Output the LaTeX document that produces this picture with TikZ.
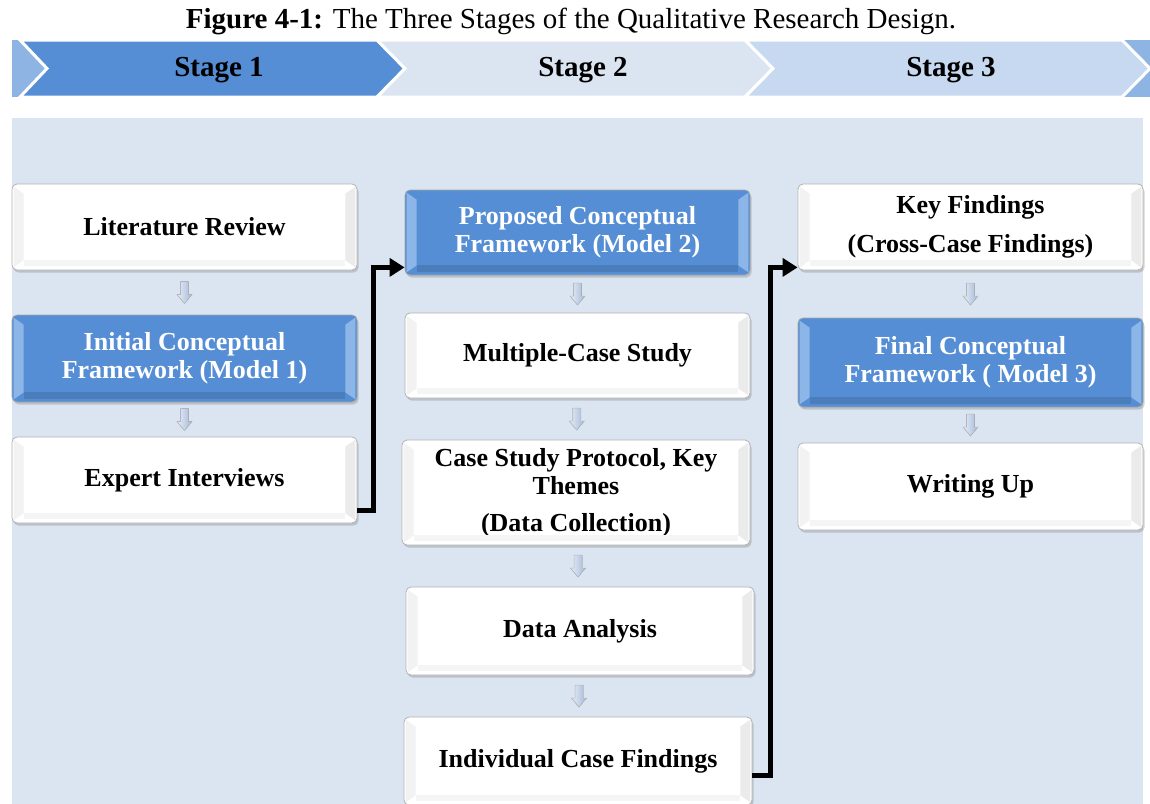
\documentclass[tikz,border=0pt]{standalone}
\usepackage{fontspec}
\setmainfont{Liberation Serif}
\usetikzlibrary{calc,shadows,arrows.meta}
\definecolor{stageA}{HTML}{558ED5}
\definecolor{stageB}{HTML}{DBE5F1}
\definecolor{stageC}{HTML}{C6D9F0}
\definecolor{stageEdge}{HTML}{8EB4E3}
\definecolor{panel}{HTML}{DBE5F1}
\definecolor{boxblue}{HTML}{558ED5}
\definecolor{bevblue}{HTML}{8DB6E8}
\definecolor{arrowlight}{HTML}{E6EDF7}
\definecolor{arrowdark}{HTML}{A3B8D8}
\tikzset{
  box/.style={draw=gray!60, line width=0.8pt, rounded corners=5pt, fill=white,
    drop shadow={shadow xshift=1.5pt, shadow yshift=-2.5pt, opacity=0.35},
    align=center, inner sep=0pt, minimum width=345pt,
    font=\fontsize{26}{28}\selectfont\bfseries},
  bluebox/.style={box, fill=boxblue, text=white, draw=gray!70},
  downarrow/.style={left color=arrowlight, right color=arrowdark, draw=gray!55, line width=0.5pt, line join=miter},
  conn/.style={line width=5pt, -{Triangle[length=15pt,width=18pt]}},
  chevron/.style={draw=white, line width=3pt, line join=miter},
  stagelabel/.style={font=\fontsize{29}{31}\selectfont\bfseries},
}
\begin{document}
\begin{tikzpicture}[x=1pt,y=-1pt]
\useasboundingbox (0,0) rectangle (1150,803);
\clip (0,0) rectangle (1150,803);

% caption
\node (title) at (571,21) {\fontsize{29}{31}\selectfont\textbf{Figure 4-1:} The Three Stages of the Qualitative Research Design.};

% stage band
\fill[stageEdge] (12,40) rectangle (1150,97);
\filldraw[chevron, fill=stageA] (20,40) -- (377,40) -- (405,68.5) -- (377,97) -- (20,97) -- (47,68.5) -- cycle;
\filldraw[chevron, fill=stageB] (377,40) -- (745,40) -- (773,68.5) -- (745,97) -- (377,97) -- (405,68.5) -- cycle;
\filldraw[chevron, fill=stageC] (745,40) -- (1122,40) -- (1150,68.5) -- (1122,97) -- (745,97) -- (773,68.5) -- cycle;
\node[stagelabel] (s1) at (219,70) {Stage 1};
\node[stagelabel] (s2) at (583,70) {Stage 2};
\node[stagelabel] (s3) at (951,70) {Stage 3};

% panel
\fill[panel] (12,118) rectangle (1143,810);

% column 1
\node[box, minimum height=86pt] (lit) at (184.5,227) {Literature Review};
\node[bluebox, minimum height=87pt] (init) at (184.5,358.5) {Initial Conceptual\\Framework (Model 1)};
\node[box, minimum height=86pt] (expert) at (184.5,480) {Expert Interviews};

% column 2
\node[bluebox, minimum height=85pt] (proposed) at (577.5,232.5) {Proposed Conceptual\\Framework (Model 2)};
\node[box, minimum height=85pt] (multiple) at (577.5,355.5) {Multiple-Case Study};
\node[box, minimum height=105pt, minimum width=348pt] (protocol) at (576,492.5) {Case Study Protocol, Key\\Themes\\[9pt](Data Collection)};
\node[box, minimum height=88pt, minimum width=348pt] (analysis) at (580,631) {Data Analysis};
\node[box, minimum height=88pt, minimum width=348pt] (indiv) at (578,761) {Individual Case Findings};

% column 3
\node[box, minimum height=86pt] (keyf) at (970.5,227) {Key Findings\\[11pt](Cross-Case Findings)};
\node[bluebox, minimum height=89pt] (final) at (970.5,362.5) {Final Conceptual\\Framework ( Model 3)};
\node[box, minimum height=87pt] (writing) at (970.5,486.5) {Writing Up};

% bevel edges of the white boxes
\foreach \n in {lit,expert,multiple,protocol,analysis,indiv,keyf,writing}{
  \fill[gray!10] ([xshift=2pt,yshift=-3pt]\n.north west) -- ([xshift=12pt,yshift=-10pt]\n.north west)
     -- ([xshift=12pt,yshift=10pt]\n.south west) -- ([xshift=2pt,yshift=3pt]\n.south west) -- cycle;
  \fill[gray!16] ([xshift=-2pt,yshift=-3pt]\n.north east) -- ([xshift=-12pt,yshift=-10pt]\n.north east)
     -- ([xshift=-12pt,yshift=10pt]\n.south east) -- ([xshift=-2pt,yshift=3pt]\n.south east) -- cycle;
  \fill[gray!8] ([xshift=12pt,yshift=4pt]\n.south west) -- ([xshift=-12pt,yshift=4pt]\n.south east)
     -- ([xshift=-12pt,yshift=10pt]\n.south east) -- ([xshift=12pt,yshift=10pt]\n.south west) -- cycle;
}
% bevel edges of the blue boxes
\foreach \n in {init,proposed,final}{
  \fill[bevblue] ([xshift=2pt,yshift=-3pt]\n.north west) -- ([xshift=12pt,yshift=-10pt]\n.north west)
     -- ([xshift=12pt,yshift=10pt]\n.south west) -- ([xshift=2pt,yshift=3pt]\n.south west) -- cycle;
  \fill[bevblue] ([xshift=-2pt,yshift=-3pt]\n.north east) -- ([xshift=-12pt,yshift=-10pt]\n.north east)
     -- ([xshift=-12pt,yshift=10pt]\n.south east) -- ([xshift=-2pt,yshift=3pt]\n.south east) -- cycle;
  \fill[boxblue!88!black] ([xshift=12pt,yshift=3pt]\n.south west) -- ([xshift=-12pt,yshift=3pt]\n.south east)
     -- ([xshift=-12pt,yshift=10pt]\n.south east) -- ([xshift=12pt,yshift=10pt]\n.south west) -- cycle;
}

% small arrows between steps
\coordinate (a1) at ($(lit.south)!0.5!(init.north)$);
\coordinate (a2) at ($(init.south)!0.5!(expert.north)$);
\coordinate (a3) at ($(proposed.south)!0.5!(multiple.north)$);
\coordinate (a4) at ($(multiple.south)!0.5!(protocol.north)$);
\coordinate (a5) at ($(protocol.south)!0.5!(analysis.north)$);
\coordinate (a6) at ($(analysis.south)!0.5!(indiv.north)$);
\coordinate (a7) at ($(keyf.south)!0.5!(final.north)$);
\coordinate (a8) at ($(final.south)!0.5!(writing.north)$);
\foreach \a in {a1,a2,a3,a4,a5,a6,a7,a8}{
  \filldraw[downarrow] ($(\a)+(-4,-11)$) -- ($(\a)+(4,-11)$) -- ($(\a)+(4,2)$) -- ($(\a)+(7.5,2)$)
     -- ($(\a)+(0,11)$) -- ($(\a)+(-7.5,2)$) -- ($(\a)+(-4,2)$) -- cycle;
}

% links between stages
\draw[conn] ([yshift=13pt]expert.south east) -- ++(16,0) |- ([yshift=8pt]proposed.south west);
\draw[conn] ([yshift=30pt]indiv.south east) -- ++(18,0) |- ([yshift=3pt]keyf.south west);
\end{tikzpicture}
\end{document}
